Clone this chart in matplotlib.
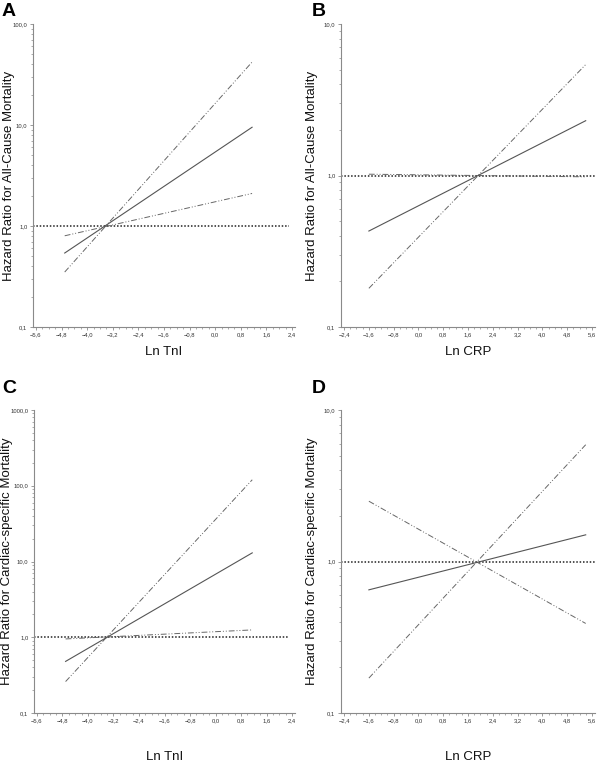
import matplotlib
matplotlib.use("Agg")
import matplotlib.pyplot as plt
from matplotlib.ticker import FixedLocator, FuncFormatter, MultipleLocator, LogLocator, NullFormatter

plt.rcParams['font.family'] = ['Liberation Sans', 'DejaVu Sans']

# data
x_tni = [-4.7, 1.15]
x_crp = [-1.6, 5.4]

a_hr = [0.54, 9.5]
a_steep = [0.35, 42.0]
a_flat = [0.80, 2.1]

b_hr = [0.43, 2.3]
b_steep = [0.18, 5.4]
b_flat = [1.02, 0.98]

c_hr = [0.48, 13.0]
c_steep = [0.26, 120.0]
c_flat = [0.95, 1.25]

d_hr = [0.65, 1.5]
d_steep = [0.17, 5.9]
d_fall = [2.5, 0.39]

ref_tni = [-5.69, 2.3]
ref_crp = [-2.5, 5.7]

tni_ticks = [-5.6, -4.8, -4.0, -3.2, -2.4, -1.6, -0.8, 0.0, 0.8, 1.6, 2.4]
crp_ticks = [-2.4, -1.6, -0.8, 0.0, 0.8, 1.6, 2.4, 3.2, 4.0, 4.8, 5.6]

ylab_all = "Hazard Ratio for All-Cause Mortality"
ylab_card = "Hazard Ratio for Cardiac-specific Mortality"


def comma(v, pos=None):
    s = "%.1f" % v
    if s == "-0.0":
        s = "0.0"
    return s.replace('.', ',').replace('-', '\u2212')


def setup(ax, xticks, xlim, ylim, xlabel, ylabel, xlab_y, ylab_x):
    ax.set_yscale('log')
    ax.set_xlim(xlim)
    ax.set_ylim(ylim)
    for s in ['top', 'right']:
        ax.spines[s].set_visible(False)
    for s in ['left', 'bottom']:
        ax.spines[s].set_color('#8a8a8a')
        ax.spines[s].set_linewidth(0.8)
    ax.xaxis.set_major_locator(FixedLocator(xticks))
    ax.xaxis.set_minor_locator(MultipleLocator(0.2))
    ax.xaxis.set_major_formatter(FuncFormatter(comma))
    ax.yaxis.set_major_locator(LogLocator(base=10, numticks=10))
    ax.yaxis.set_minor_locator(LogLocator(base=10, subs=range(2, 10), numticks=10))
    ax.yaxis.set_major_formatter(FuncFormatter(comma))
    ax.yaxis.set_minor_formatter(NullFormatter())
    ax.tick_params(which='major', length=2.5, width=0.6, color='#8a8a8a',
                   labelsize=4.2, labelcolor='#333333', pad=1.5)
    ax.tick_params(which='minor', length=1.5, width=0.5, color='#8a8a8a')
    ax.set_xlabel(xlabel, fontsize=9.5, color='#111111')
    ax.set_ylabel(ylabel, fontsize=9.5, color='#111111')
    ax.xaxis.set_label_coords(0.5, xlab_y)
    ax.yaxis.set_label_coords(ylab_x, 0.5)


def draw(ax, x, hr, lines, ref_x):
    ax.plot(ref_x, [1.0, 1.0], color='#222222', lw=1.1, linestyle=(0, (1, 1.2)))
    for y in lines:
        ax.plot(x, y, color='#666666', lw=0.7, linestyle=(0, (6, 2, 1, 2, 1, 2)))
    ax.plot(x, hr, color='#555555', lw=0.8)


fig = plt.figure(figsize=(6.0, 7.64), dpi=100)
W, H = 600.0, 764.0

axA = fig.add_axes([33 / W, 1 - 327 / H, 262 / W, 303 / H])
axB = fig.add_axes([341 / W, 1 - 327 / H, 254 / W, 303 / H])
axC = fig.add_axes([34 / W, 1 - 713 / H, 261 / W, 303 / H])
axD = fig.add_axes([341 / W, 1 - 713 / H, 254 / W, 303 / H])

draw(axA, x_tni, a_hr, [a_steep, a_flat], ref_tni)
draw(axB, x_crp, b_hr, [b_steep, b_flat], ref_crp)
draw(axC, x_tni, c_hr, [c_steep, c_flat], ref_tni)
draw(axD, x_crp, d_hr, [d_steep, d_fall], ref_crp)

setup(axA, tni_ticks, (-5.69, 2.49), (0.1, 100), "Ln TnI", ylab_all, -0.063, -0.068)
setup(axB, crp_ticks, (-2.5, 5.7), (0.1, 10), "Ln CRP", ylab_all, -0.063, -0.09)
setup(axC, tni_ticks, (-5.69, 2.49), (0.1, 1000), "Ln TnI", ylab_card, -0.125, -0.08)
setup(axD, crp_ticks, (-2.5, 5.7), (0.1, 10), "Ln CRP", ylab_card, -0.125, -0.09)

for lab, (px, py) in zip("ABCD", [(2, 3), (312, 3), (2, 380), (312, 380)]):
    fig.text(px / W, 1 - py / H, lab, fontsize=14, fontweight='bold', va='top', ha='left')

fig.savefig("out.png", dpi=100)
